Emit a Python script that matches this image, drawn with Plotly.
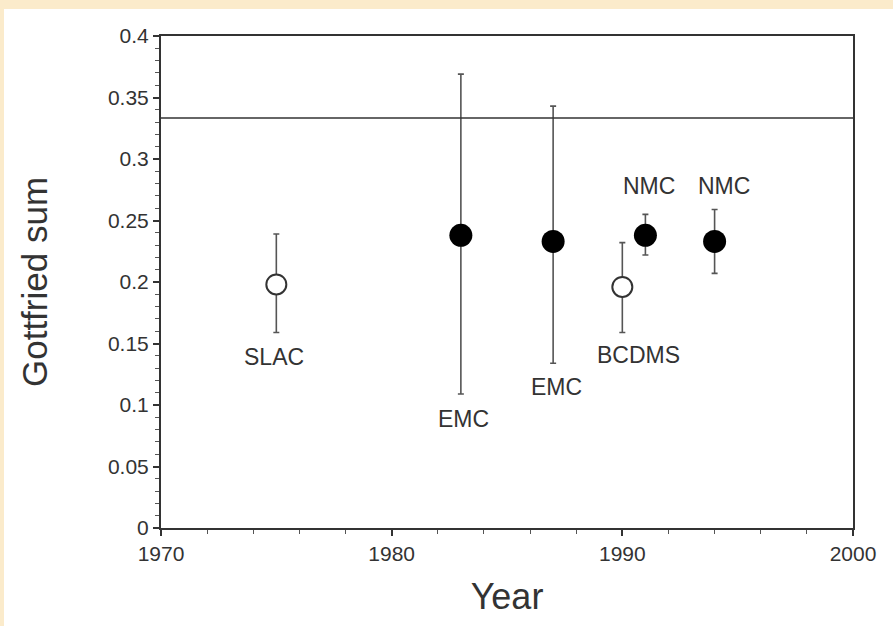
import plotly.graph_objects as go

# ---- data ----
years_open = [1975, 1990]
vals_open = [0.198, 0.196]
err_up_open = [0.041, 0.036]
err_dn_open = [0.039, 0.037]

years_filled = [1983, 1987, 1991, 1994]
vals_filled = [0.238, 0.233, 0.238, 0.233]
err_up_filled = [0.131, 0.110, 0.017, 0.026]
err_dn_filled = [0.129, 0.099, 0.016, 0.026]

label_text = ["SLAC", "EMC", "EMC", "BCDMS", "NMC", "NMC"]
label_x = [1974.9, 1983.1, 1987.15, 1990.7, 1991.15, 1994.4]
label_y = [0.139, 0.089, 0.115, 0.141, 0.278, 0.278]

ref_value = 1 / 3

FONT = "Liberation Sans, Arial, Helvetica, sans-serif"
INK = "#333333"

fig = go.Figure()

fig.add_trace(go.Scatter(
    x=years_filled, y=vals_filled, mode="markers",
    marker=dict(size=23, color="black", line=dict(width=0)),
    error_y=dict(type="data", symmetric=False, array=err_up_filled,
                 arrayminus=err_dn_filled, color="#555555", thickness=1.6, width=3),
    showlegend=False,
))
fig.add_trace(go.Scatter(
    x=years_open, y=vals_open, mode="markers",
    marker=dict(size=20, color="white", symbol="circle",
                line=dict(width=2, color="#333333")),
    error_y=dict(type="data", symmetric=False, array=err_up_open,
                 arrayminus=err_dn_open, color="#555555", thickness=1.6, width=3),
    showlegend=False,
))

# white page region on beige background
fig.add_shape(type="rect", xref="paper", yref="paper", layer="below",
              x0=-0.2269, x1=1.06, y0=-0.21, y1=1.055,
              fillcolor="white", line=dict(width=0))

# reference line at 1/3
fig.add_shape(type="line", xref="paper", yref="y", x0=0, x1=1,
              y0=ref_value, y1=ref_value, line=dict(color=INK, width=1.6))

for t, xx, yy in zip(label_text, label_x, label_y):
    fig.add_annotation(x=xx, y=yy, text=t, showarrow=False,
                       font=dict(family=FONT, size=23, color=INK))

fig.update_xaxes(
    range=[1970, 2000], dtick=10, tick0=1970,
    ticks="outside", ticklen=6, tickwidth=1.5, tickcolor=INK,
    minor=dict(dtick=2, ticks="outside", ticklen=4, tickwidth=1.2, tickcolor="#555555"),
    showline=True, linecolor=INK, linewidth=2, mirror=True,
    showgrid=False, zeroline=False,
    tickfont=dict(family=FONT, size=21, color=INK),
    title=dict(text="Year", font=dict(family=FONT, size=36, color=INK), standoff=20),
)
fig.update_yaxes(
    range=[0, 0.4], dtick=0.05, tick0=0,
    ticks="outside", ticklen=6, tickwidth=1.5, tickcolor=INK,
    minor=dict(dtick=0.01, ticks="outside", ticklen=4, tickwidth=1.2, tickcolor="#555555"),
    showline=True, linecolor=INK, linewidth=2, mirror=True,
    showgrid=False, zeroline=False,
    tickfont=dict(family=FONT, size=21, color=INK),
    title=dict(text="Gottfried sum", font=dict(family=FONT, size=35, color=INK), standoff=50),
)

fig.update_layout(
    width=893, height=626,
    margin=dict(l=161, r=40, t=36, b=98),
    paper_bgcolor="#FBEBCB",
    plot_bgcolor="white",
)

fig.write_html("out.html")
